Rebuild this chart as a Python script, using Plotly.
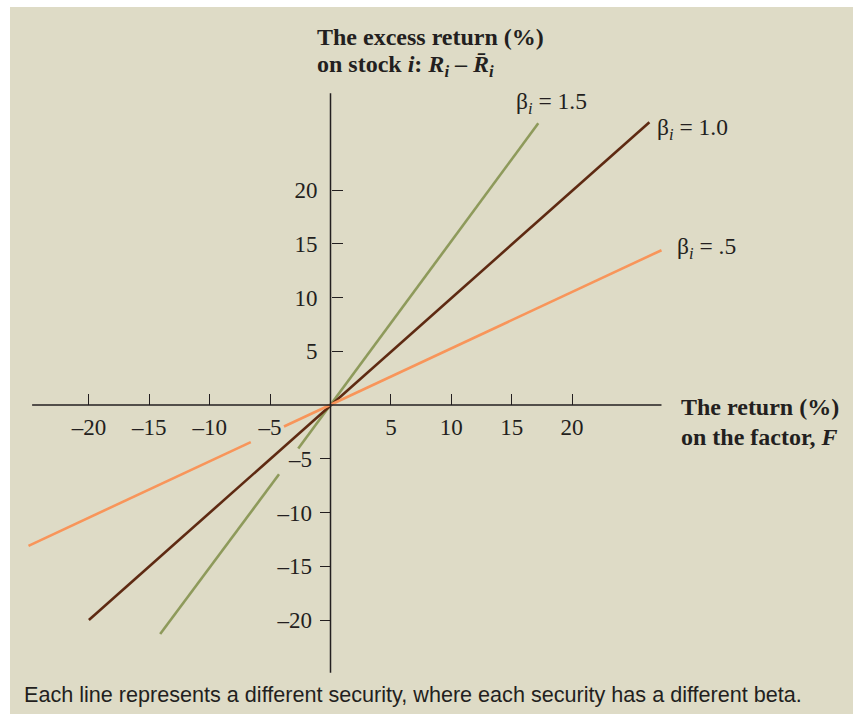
import plotly.graph_objects as go

# ---- data ----
beta_labels = ["β<sub><i>i</i></sub> = 1.5", "β<sub><i>i</i></sub> = 1.0", "β<sub><i>i</i></sub> = .5"]
# each security line: factor return F (%) and excess return (%),
# None marks the small breaks around the axis labels
beta15_x = [-14.1, -4.26, None, -2.67, 17.2]
beta15_y = [-21.3, -6.45, None, -4.05, 26.2]
beta10_x = [-20.0, 26.4]
beta10_y = [-20.0, 26.3]
beta05_x = [-25.0, -6.6, None, -3.85, 27.4]
beta05_y = [-13.1, -3.45, None, -2.0, 14.4]
colors = ["#8e9a5b", "#5e2a12", "#f8955a"]
# label anchor (factor return, excess return)
label_pos = [(15.2, 28.1), (26.9, 25.7), (28.5, 14.6)]

x_tick_vals = [-20, -15, -10, -5, 5, 10, 15, 20]
x_tick_text = ["–20", "–15", "–10", "–5", "5", "10", "15", "20"]
y_pos_tick_vals = [5, 10, 15, 20]
y_pos_tick_text = ["5", "10", "15", "20"]
y_neg_tick_vals = [-20, -15, -10, -5]
y_neg_tick_text = ["–20", "–15", "–10", "–5"]

x_axis_extent = (-24.7, 27.4)
y_axis_extent = (-24.9, 29.0)

# ---- figure geometry (body margin removed by post_script) ----
W, H = 853, 714
X0_PX, XSCALE = 330.5, 12.08
Y0_PX, YSCALE = 405.0, 10.75
xr = [-X0_PX / XSCALE, (W - X0_PX) / XSCALE]
yr = [-(H - Y0_PX) / YSCALE, Y0_PX / YSCALE]


def px(x):
    return x / W


def py(y):
    return 1 - y / H


SERIF = "Liberation Serif, Times New Roman, serif"
INK = "#231f20"

fig = go.Figure()
for xs, ys, c in zip([beta15_x, beta10_x, beta05_x], [beta15_y, beta10_y, beta05_y], colors):
    fig.add_trace(go.Scatter(x=xs, y=ys, mode="lines", line=dict(color=c, width=2.6),
                             hoverinfo="skip", showlegend=False))
# invisible trace so the second y axis (negative ticks) is drawn
fig.add_trace(go.Scatter(x=[0], y=[0], yaxis="y2", mode="markers", marker=dict(opacity=0),
                         hoverinfo="skip", showlegend=False))

shapes = [
    dict(type="rect", xref="paper", yref="paper", x0=px(10), x1=1, y0=0, y1=py(7),
         fillcolor="#dedbc6", line=dict(width=0), layer="below"),
    dict(type="line", xref="x", yref="y", x0=x_axis_extent[0], x1=x_axis_extent[1], y0=0, y1=0,
         line=dict(color=INK, width=1.5)),
    dict(type="line", xref="x", yref="y", x0=0, x1=0, y0=y_axis_extent[0], y1=y_axis_extent[1],
         line=dict(color=INK, width=1.5)),
]

annotations = []
for lab, (lx, ly) in zip(beta_labels, label_pos):
    annotations.append(dict(x=lx, y=ly, xref="x", yref="y", text=lab, showarrow=False,
                            xanchor="left", yanchor="middle",
                            font=dict(family=SERIF, size=23.5, color=INK)))


def title_line(text, x, y):
    annotations.append(dict(x=px(x), y=py(y), xref="paper", yref="paper", xanchor="left",
                            yanchor="middle", text=text, showarrow=False,
                            font=dict(family=SERIF, size=24, color=INK)))


title_line("<b>The excess return (%)</b>", 315, 37)
title_line("<b>on stock <i>i</i>: <i>R<sub>i</sub></i> – <i>R\u0304<sub>i</sub></i></b>", 315, 66)
title_line("<b>The return (%)</b>", 679, 407)
title_line("<b>on the factor, <i>F</i></b>", 679, 437)

annotations.append(dict(
    x=px(22), y=py(694), xref="paper", yref="paper", xanchor="left", yanchor="middle",
    text="Each line represents a different security, where each security has a different beta.",
    showarrow=False, font=dict(family="Liberation Sans, Arial, sans-serif", size=21.6, color=INK)))

tick_font = dict(family=SERIF, size=23, color=INK)
fig.update_layout(
    width=W, height=H, margin=dict(l=0, r=0, t=0, b=0),
    paper_bgcolor="white", plot_bgcolor="rgba(0,0,0,0)",
    shapes=shapes, annotations=annotations, showlegend=False,
    xaxis=dict(range=xr, domain=[0, 1], anchor="free", position=(H - Y0_PX) / H,
               tickvals=x_tick_vals, ticktext=x_tick_text, ticks="inside", ticklen=11,
               tickwidth=1.3, tickcolor=INK, showgrid=False, zeroline=False, showline=False,
               ticklabelstandoff=6, tickfont=tick_font, fixedrange=True),
    yaxis=dict(range=yr, domain=[0, 1], anchor="free", position=X0_PX / W,
               tickvals=y_pos_tick_vals, ticktext=y_pos_tick_text, ticks="inside", ticklen=11,
               tickwidth=1.3, tickcolor=INK, showgrid=False, zeroline=False, showline=False,
               ticklabelstandoff=13, tickfont=tick_font, fixedrange=True),
    yaxis2=dict(range=yr, domain=[0, 1], anchor="free", position=X0_PX / W, overlaying="y",
                tickvals=y_neg_tick_vals, ticktext=y_neg_tick_text, ticks="outside", ticklen=11,
                tickwidth=1.3, tickcolor=INK, showgrid=False, zeroline=False, showline=False,
                ticklabelstandoff=3, tickfont=tick_font, fixedrange=True),
)

fig.write_html("out.html", config={"displayModeBar": False},
               post_script="document.body.style.margin='0';document.body.style.overflow='hidden';")
